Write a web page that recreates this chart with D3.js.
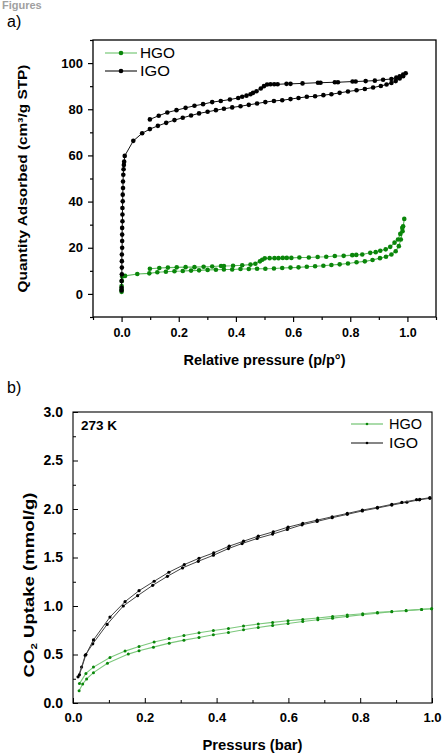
<!DOCTYPE html>
<html><head><meta charset="utf-8">
<script src="https://cdn.jsdelivr.net/npm/d3@7"></script>
<style>
body{margin:0;background:#fff;}
svg{display:block;}
text{font-family:"Liberation Sans",Arial,sans-serif;}
</style></head>
<body>
<svg id="c" width="443" height="755"></svg>
<script>
// ---------- Panel a data (N2 isotherms) ----------
const hgoAdsP = [0.0,0.0,0.0,0.001,0.002,0.012,0.055,0.097,0.125,0.155,0.185,0.214,0.243,0.271,0.301,0.33,0.358,0.387,0.416,0.445,0.474,0.503,0.533,0.562,0.591,0.619,0.648,0.677,0.706,0.734,0.763,0.792,0.822,0.851,0.878,0.904,0.925,0.944,0.959,0.97,0.977,0.983,0.989];
const hgoAdsQ = [0.9,2.0,3.4,5.6,7.5,7.8,8.6,8.9,9.4,9.6,9.8,9.9,10.1,10.2,10.4,10.5,10.6,10.6,10.8,10.8,10.9,10.9,11.0,11.2,11.4,11.5,11.8,12.0,12.2,12.5,12.8,13.2,13.7,14.1,14.7,15.5,16.1,17.1,18.5,20.7,23.6,27.2,32.5];
const hgoDesP = [0.989,0.985,0.982,0.975,0.967,0.955,0.94,0.924,0.905,0.889,0.87,0.842,0.821,0.807,0.777,0.746,0.716,0.686,0.655,0.622,0.594,0.578,0.564,0.549,0.535,0.518,0.501,0.492,0.484,0.468,0.451,0.422,0.39,0.358,0.348,0.317,0.287,0.255,0.224,0.193,0.162,0.132,0.099];
const hgoDesQ = [32.5,29.3,28.6,26.0,23.6,22.2,20.4,19.3,18.7,18.1,17.8,17.1,16.9,16.8,16.5,16.4,16.1,16.0,15.8,15.8,15.6,15.6,15.6,15.5,15.5,15.5,15.4,14.8,14.1,13.1,12.7,12.4,12.2,12.1,12.1,11.9,11.8,11.6,11.6,11.5,11.4,11.2,10.9];

const igoAdsP = [0.0,0.0,0.0,0.001,0.001,0.001,0.001,0.002,0.002,0.002,0.002,0.003,0.003,0.003,0.004,0.004,0.005,0.005,0.006,0.007,0.008,0.009,0.011,0.041,0.072,0.099,0.127,0.156,0.185,0.214,0.243,0.271,0.301,0.33,0.358,0.387,0.416,0.445,0.474,0.503,0.533,0.562,0.591,0.619,0.648,0.677,0.706,0.734,0.763,0.792,0.822,0.851,0.88,0.907,0.927,0.944,0.959,0.973,0.985,0.994];
const igoAdsQ = [1.5,2.7,5.6,8.5,11.4,14.2,17.1,20.0,22.9,25.7,28.6,31.5,34.4,37.2,40.1,43.0,45.9,48.7,51.6,54.0,55.9,57.3,59.8,66.3,69.6,71.4,72.8,74.1,75.3,76.3,77.3,78.2,78.9,79.6,80.2,80.8,81.3,81.9,82.5,83.1,83.6,83.9,84.4,84.9,85.4,85.6,86.1,86.5,87.1,87.7,88.2,88.8,89.4,90.1,90.7,91.4,92.2,93.3,94.3,95.6];
const igoDesP = [0.994,0.985,0.973,0.961,0.944,0.915,0.886,0.854,0.819,0.808,0.757,0.746,0.696,0.687,0.633,0.591,0.577,0.546,0.534,0.521,0.509,0.498,0.487,0.472,0.46,0.451,0.437,0.422,0.408,0.379,0.347,0.317,0.285,0.255,0.224,0.192,0.16,0.13,0.099];
const igoDesQ = [95.6,95.0,94.3,93.7,93.1,92.8,92.4,92.2,92.0,92.0,91.7,91.7,91.5,91.5,91.2,91.0,91.0,90.8,90.8,90.8,90.7,90.0,89.0,87.8,87.1,86.5,85.9,85.4,84.9,84.2,83.6,83.1,82.2,81.5,80.6,79.6,78.6,77.2,75.6];

const aXTicks = [0.0,0.2,0.4,0.6,0.8,1.0];
const aYTicks = [0,20,40,60,80,100];

// ---------- Panel b data (CO2 uptake, 273 K) ----------
const bHgoAdsP = [0.017,0.027,0.038,0.057,0.096,0.154,0.184,0.224,0.268,0.309,0.351,0.391,0.433,0.475,0.516,0.556,0.599,0.64,0.682,0.723,0.764,0.807,0.848,0.888,0.928,0.971,0.999];
const bHgoAdsQ = [0.127,0.196,0.248,0.313,0.41,0.504,0.538,0.576,0.617,0.648,0.675,0.703,0.727,0.755,0.779,0.8,0.82,0.841,0.858,0.875,0.893,0.91,0.927,0.94,0.952,0.965,0.972];
const bHgoDesP = [0.999,0.971,0.928,0.888,0.848,0.807,0.764,0.723,0.682,0.64,0.599,0.556,0.516,0.475,0.433,0.391,0.351,0.309,0.268,0.226,0.184,0.145,0.103,0.057,0.036,0.018];
const bHgoDesQ = [0.972,0.965,0.954,0.944,0.934,0.92,0.907,0.893,0.876,0.862,0.848,0.831,0.814,0.793,0.768,0.748,0.724,0.696,0.665,0.628,0.582,0.535,0.47,0.37,0.305,0.2];

const bIgoAdsP = [0.014,0.024,0.034,0.055,0.095,0.14,0.18,0.222,0.263,0.305,0.349,0.391,0.433,0.471,0.513,0.556,0.597,0.638,0.68,0.722,0.764,0.806,0.848,0.888,0.93,0.965,0.994];
const bIgoAdsQ = [0.27,0.37,0.49,0.61,0.81,1.0,1.106,1.213,1.306,1.393,1.461,1.523,1.592,1.644,1.696,1.741,1.789,1.837,1.872,1.91,1.945,1.98,2.01,2.04,2.07,2.095,2.11];
const bIgoDesP = [0.994,0.966,0.957,0.916,0.888,0.848,0.806,0.764,0.722,0.68,0.64,0.599,0.558,0.516,0.475,0.435,0.392,0.351,0.31,0.267,0.226,0.184,0.145,0.103,0.057,0.036,0.018];
const bIgoDesQ = [2.117,2.1,2.096,2.068,2.048,2.017,1.989,1.954,1.92,1.885,1.851,1.813,1.765,1.72,1.668,1.617,1.548,1.492,1.427,1.348,1.255,1.158,1.045,0.886,0.65,0.5,0.29];

const bXTicks = [0.0,0.2,0.4,0.6,0.8,1.0];
const bYTicks = [0.0,0.5,1.0,1.5,2.0,2.5,3.0];

const seriesNames = ["HGO","IGO"];

// ---------- styles ----------
const greenLine = "#5cb85c", greenMark = "#0a860a";
const blackLine = "#111", blackMark = "#000";

const svg = d3.select("#c");
const zip = (p,q) => p.map((v,i)=>[v,q[i]]);
const tickFont = (g,size)=>g.selectAll("text").attr("font-size",size).attr("font-weight","bold")
  .attr("font-family","'Liberation Sans',Arial,sans-serif").attr("fill","#000");

// header
svg.append("text").attr("x",2).attr("y",9).attr("font-family","'Open Sans',sans-serif")
  .attr("font-size",11).attr("font-weight","bold").attr("fill","#a0a0a0").text("Figures");
svg.append("text").attr("x",7).attr("y",27).attr("font-family","'Open Sans',sans-serif")
  .attr("font-size",16).attr("fill","#000").text("a)");
svg.append("text").attr("x",7).attr("y",393).attr("font-family","'Open Sans',sans-serif")
  .attr("font-size",16).attr("fill","#000").text("b)");

// ================= Panel a =================
const A = {l:93, r:436, t:40, b:317};
const ax = d3.scaleLinear().domain([-0.1,1.1]).range([A.l,A.r]);
const ay = d3.scaleLinear().domain([-10,110]).range([A.b,A.t]);
const ga = svg.append("g");

ga.append("rect").attr("x",A.l).attr("y",A.t).attr("width",A.r-A.l).attr("height",A.b-A.t)
  .attr("fill","none").attr("stroke","#000").attr("stroke-width",1.3);

const aXMinor = d3.range(-0.1,1.11,0.2).map(v=>+v.toFixed(2));
const aYMinor = d3.range(-10,111,20);
ga.append("g").attr("transform",`translate(0,${A.b})`)
  .call(d3.axisBottom(ax).tickValues(aXMinor).tickSize(3).tickFormat(""))
  .call(g=>{g.select(".domain").remove(); g.selectAll("line").attr("stroke-width",1.2);});
ga.append("g").attr("transform",`translate(${A.l},0)`)
  .call(d3.axisLeft(ay).tickValues(aYMinor).tickSize(3).tickFormat(""))
  .call(g=>{g.select(".domain").remove(); g.selectAll("line").attr("stroke-width",1.2);});
ga.append("g").attr("transform",`translate(0,${A.b})`)
  .call(d3.axisBottom(ax).tickValues(aXTicks).tickSize(5).tickPadding(6).tickFormat(d3.format(".1f")))
  .call(g=>{g.select(".domain").remove(); g.selectAll("line").attr("stroke-width",1.2); tickFont(g,12.5);});
ga.append("g").attr("transform",`translate(${A.l},0)`)
  .call(d3.axisLeft(ay).tickValues(aYTicks).tickSize(5).tickPadding(5).tickFormat(d3.format("d")))
  .call(g=>{g.select(".domain").remove(); g.selectAll("line").attr("stroke-width",1.2); tickFont(g,13);});

ga.append("text").attr("x",(ax(0)+ax(1))/2).attr("y",365).attr("text-anchor","middle")
  .attr("font-size",14).attr("font-weight","bold")
  .attr("textLength",162).attr("lengthAdjust","spacingAndGlyphs").text("Relative pressure (p/p°)");
ga.append("text").attr("transform",`translate(27,${(A.t+A.b)/2}) rotate(-90)`).attr("text-anchor","middle")
  .attr("font-size",13.5).attr("font-weight","bold")
  .attr("textLength",228).attr("lengthAdjust","spacingAndGlyphs").text("Quantity Adsorbed (cm³/g STP)");

function drawSeries(g, xs, ys, pts, line, mark, r, lw){
  const lg = d3.line().x(d=>xs(d[0])).y(d=>ys(d[1]));
  g.append("path").attr("d",lg(pts)).attr("fill","none").attr("stroke",line).attr("stroke-width",lw);
  g.append("g").selectAll("circle").data(pts).join("circle")
    .attr("cx",d=>xs(d[0])).attr("cy",d=>ys(d[1])).attr("r",r).attr("fill",mark);
}
const aHgo = zip(hgoAdsP,hgoAdsQ).concat(zip(hgoDesP,hgoDesQ).slice(1));
const aIgo = zip(igoAdsP,igoAdsQ).concat(zip(igoDesP,igoDesQ).slice(1));
drawSeries(ga, ax, ay, aHgo, greenLine, greenMark, 2.3, 1.1);
drawSeries(ga, ax, ay, aIgo, blackLine, blackMark, 2.3, 1);

// legend a
const legA = [{n:seriesNames[0],l:"#6cc46c",m:greenMark,y:53,w:35},{n:seriesNames[1],l:blackLine,m:blackMark,y:71,w:30}];
legA.forEach(d=>{
  ga.append("line").attr("x1",105).attr("x2",137).attr("y1",d.y).attr("y2",d.y).attr("stroke",d.l).attr("stroke-width",1.1);
  ga.append("circle").attr("cx",121).attr("cy",d.y).attr("r",2.3).attr("fill",d.m);
  ga.append("text").attr("x",140).attr("y",d.y+5).attr("font-size",14)
    .attr("textLength",d.w).attr("lengthAdjust","spacingAndGlyphs").text(d.n);
});

// ================= Panel b =================
const B = {l:73, r:432, t:412, b:703};
const bx = d3.scaleLinear().domain([0,1]).range([B.l,B.r]);
const by = d3.scaleLinear().domain([0,3]).range([B.b,B.t]);
const gb = svg.append("g");

gb.append("rect").attr("x",B.l).attr("y",B.t).attr("width",B.r-B.l).attr("height",B.b-B.t)
  .attr("fill","none").attr("stroke","#000").attr("stroke-width",1.1);

const bXMinor = d3.range(0.1,1,0.2).map(v=>+v.toFixed(2));
const bYMinor = d3.range(0.25,3,0.5);
gb.append("g").attr("transform",`translate(0,${B.b})`)
  .call(d3.axisTop(bx).tickValues(bXMinor).tickSize(3).tickFormat(""))
  .call(g=>{g.select(".domain").remove();});
gb.append("g").attr("transform",`translate(${B.l},0)`)
  .call(d3.axisRight(by).tickValues(bYMinor).tickSize(3).tickFormat(""))
  .call(g=>{g.select(".domain").remove();});
gb.append("g").attr("transform",`translate(0,${B.b})`)
  .call(d3.axisBottom(bx).tickValues(bXTicks).tickSize(0).tickPadding(10).tickFormat(d3.format(".1f")))
  .call(g=>{g.select(".domain").remove(); tickFont(g,13);});
gb.append("g").attr("transform",`translate(0,${B.b})`)
  .call(d3.axisTop(bx).tickValues(bXTicks).tickSize(5).tickFormat(""))
  .call(g=>g.select(".domain").remove());
gb.append("g").attr("transform",`translate(${B.l},0)`)
  .call(d3.axisLeft(by).tickValues(bYTicks).tickSize(0).tickPadding(10).tickFormat(d3.format(".1f")))
  .call(g=>{g.select(".domain").remove(); tickFont(g,14);});
gb.append("g").attr("transform",`translate(${B.l},0)`)
  .call(d3.axisRight(by).tickValues(bYTicks).tickSize(5).tickFormat(""))
  .call(g=>g.select(".domain").remove());

gb.append("text").attr("x",(B.l+B.r)/2).attr("y",750).attr("text-anchor","middle")
  .attr("font-size",14).attr("font-weight","bold")
  .attr("textLength",100).attr("lengthAdjust","spacingAndGlyphs").text("Pressurs (bar)");
const yt = gb.append("text").attr("transform",`translate(34,585) rotate(-90)`).attr("text-anchor","middle")
  .attr("font-size",14.5).attr("font-weight","bold")
  .attr("textLength",185).attr("lengthAdjust","spacingAndGlyphs");
yt.append("tspan").text("CO");
yt.append("tspan").attr("font-size",9).attr("dy",3).text("2");
yt.append("tspan").attr("dy",-3).text(" Uptake (mmol/g)");

gb.append("text").attr("x",81).attr("y",430).attr("font-size",13.5).attr("font-weight","bold").text("273 K");

const bGreenLine = "#7cc87c";
drawSeries(gb, bx, by, zip(bHgoAdsP,bHgoAdsQ), bGreenLine, greenMark, 1.5, 1.1);
drawSeries(gb, bx, by, zip(bHgoDesP,bHgoDesQ), bGreenLine, greenMark, 1.5, 1.1);
drawSeries(gb, bx, by, zip(bIgoAdsP,bIgoAdsQ), "#444", blackMark, 1.6, 1);
drawSeries(gb, bx, by, zip(bIgoDesP,bIgoDesQ), "#444", blackMark, 1.6, 1);

const legB = [{n:seriesNames[0],l:bGreenLine,m:greenMark,y:424,w:33},{n:seriesNames[1],l:"#444",m:blackMark,y:443,w:29}];
legB.forEach(d=>{
  gb.append("line").attr("x1",351).attr("x2",383).attr("y1",d.y).attr("y2",d.y).attr("stroke",d.l).attr("stroke-width",1.3);
  gb.append("circle").attr("cx",367).attr("cy",d.y).attr("r",1.3).attr("fill",d.m);
  gb.append("text").attr("x",389).attr("y",d.y+5).attr("font-size",14)
    .attr("textLength",d.w).attr("lengthAdjust","spacingAndGlyphs").text(d.n);
});
</script>
</body></html>
